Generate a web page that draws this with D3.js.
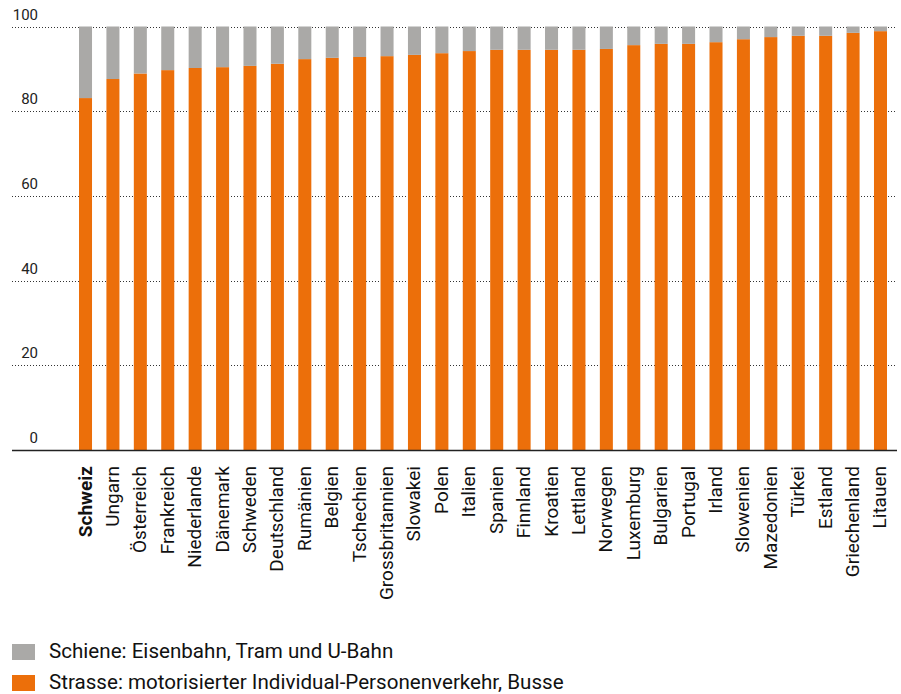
<!DOCTYPE html>
<html><head><meta charset="utf-8">
<script src="https://cdn.jsdelivr.net/npm/d3@7"></script>
<style>
html,body{margin:0;padding:0;background:#fff;}
svg{display:block;font-family:Roboto,"Noto Sans",sans-serif;}
</style></head>
<body><svg id="c" width="901" height="694"></svg>
<script>
const categories = ["Schweiz","Ungarn","Österreich","Frankreich","Niederlande","Dänemark","Schweden","Deutschland","Rumänien","Belgien","Tschechien","Grossbritannien","Slowakei","Polen","Italien","Spanien","Finnland","Kroatien","Lettland","Norwegen","Luxemburg","Bulgarien","Portugal","Irland","Slowenien","Mazedonien","Türkei","Estland","Griechenland","Litauen"];
const strasse = [83.1,87.6,88.9,89.7,90.2,90.4,90.7,91.2,92.3,92.6,92.8,93.0,93.3,93.7,94.2,94.5,94.5,94.5,94.5,94.7,95.6,95.9,95.9,96.3,97.0,97.5,97.8,97.8,98.5,98.9];
const schiene = [16.9,12.4,11.1,10.3,9.8,9.6,9.3,8.8,7.7,7.4,7.2,7.0,6.7,6.3,5.8,5.5,5.5,5.5,5.5,5.3,4.4,4.1,4.1,3.7,3.0,2.5,2.2,2.2,1.5,1.1];
const yTicks = [0,20,40,60,80,100];
const seriesNames = ["Schiene: Eisenbahn, Tram und U-Bahn","Strasse: motorisierter Individual-Personenverkehr, Busse"];
const colors = {strasse:"#EC6F0A", schiene:"#AAA9A7"};

const svg = d3.select("#c");
const x = d3.scaleBand().domain(categories).range([79, 887]).paddingInner(0.525).paddingOuter(0);
const y = d3.scaleLinear().domain([0,100]).range([450, 26.5]);

const rows = categories.map((c,i)=>({cat:c, strasse:strasse[i], schiene:schiene[i]}));
const stack = d3.stack().keys(["strasse","schiene"])(rows);

// gridlines
svg.append("g").selectAll("line").data(yTicks.filter(d=>d>0)).join("line")
  .attr("x1",12).attr("x2",897)
  .attr("y1",d=>Math.round(y(d))+0.5).attr("y2",d=>Math.round(y(d))+0.5)
  .attr("stroke","#333").attr("stroke-width",1).attr("stroke-dasharray","1,2");

// bars
svg.append("g").selectAll("g").data(stack).join("g")
  .attr("fill",d=>colors[d.key])
  .selectAll("rect").data(d=>d).join("rect")
  .attr("x",d=>x(d.data.cat)).attr("width",x.bandwidth())
  .attr("y",d=>y(d[1])).attr("height",d=>y(d[0])-y(d[1]));

// baseline
svg.append("line").attr("x1",12).attr("x2",897).attr("y1",y(0)+0.5).attr("y2",y(0)+0.5)
  .attr("stroke","#222").attr("stroke-width",1.3);

// y tick labels
svg.append("g").selectAll("text").data(yTicks).join("text")
  .attr("x",38).attr("y",d=>y(d)-7).attr("text-anchor","end")
  .attr("font-size",15).attr("fill","#222").text(d=>d);

// x labels
svg.append("g").selectAll("text").data(categories).join("text")
  .attr("transform",d=>`translate(${x(d)+x.bandwidth()/2+6},466) rotate(-90)`)
  .attr("text-anchor","end").attr("font-size",19).attr("fill","#111")
  .attr("font-weight",(d,i)=>i===0?"bold":"normal")
  .text(d=>d);

// legend
const leg = [{name:seriesNames[0], c:colors.schiene},{name:seriesNames[1], c:colors.strasse}];
const lg = svg.append("g").selectAll("g").data(leg).join("g")
  .attr("transform",(d,i)=>`translate(12,${644+i*31})`);
lg.append("rect").attr("width",23).attr("height",16).attr("fill",d=>d.c);
lg.append("text").attr("x",37).attr("y",14).attr("font-size",20.6).attr("fill","#111").text(d=>d.name);
</script></body></html>
